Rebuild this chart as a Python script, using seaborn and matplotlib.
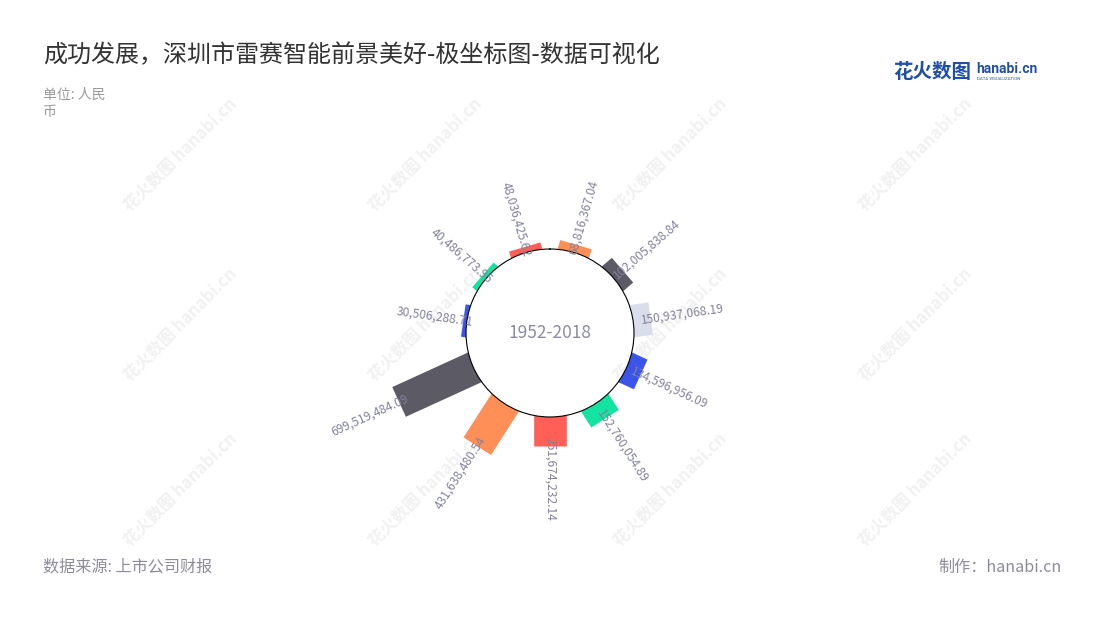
import numpy as np
import matplotlib
matplotlib.use('Agg')
import matplotlib.pyplot as plt
import seaborn as sns

# data, clockwise from the top of the circle
values = [68816367.04, 102005838.84, 150937068.19, 134596956.09, 152760054.89,
          251674232.14, 431638480.54, 699519484.09, 30506288.71, 40486773.95,
          48036425.62]
bar_colors = ['#FF8F56', '#5B5A65', '#D9DEEA', '#3A55E8', '#12E3A1',
              '#FF5F57', '#FF8F56', '#5B5A65', '#3A55E8', '#12E3A1', '#FF5F57']
center_label = '1952-2018'
title = '成功发展，深圳市雷赛智能前景美好-极坐标图-数据可视化'
unit_text = '单位: 人民\n币'
source_text = '数据来源: 上市公司财报'
maker_text = '制作：hanabi.cn'

sns.set_theme(style='white')
plt.rcParams['font.family'] = ['Noto Sans CJK SC', 'DejaVu Sans']

W, H = 1100, 620
fig = plt.figure(figsize=(11, 6.2), dpi=100)
fig.patch.set_facecolor('white')

# polar axes: radius 248px, centre at (550, 333)
R = 248
cx, cy = 550, 333
ax = fig.add_axes([(cx - R) / W, (H - cy - R) / H, 2 * R / W, 2 * R / H],
                  projection='polar')
rmax = 1.4e9
ax.set_ylim(0, rmax)
ax.set_rorigin(-0.717e9)
ax.set_theta_zero_location('N')
ax.set_theta_direction(-1)
ax.set_xticks([])
ax.set_yticks([])
ax.grid(False)
ax.set_facecolor('none')
ax.spines['polar'].set_visible(False)
ax.spines['inner'].set_visible(True)
ax.spines['inner'].set_color('black')
ax.spines['inner'].set_linewidth(0.8)

n = len(values)
theta = (np.arange(n) + 0.5) * 2 * np.pi / n

# rectangular bars drawn as thick radial lines
ax.vlines(theta, -0.05e9, values, colors=bar_colors, linewidth=23.5,
          capstyle='butt', zorder=2)

# value labels along the radius
label_color = '#82829A'
for t, v in zip(theta, values):
    a = np.degrees(t)
    if a <= 180.001:
        rot, ha = 90 - a, 'left'
    else:
        rot, ha = 270 - a, 'right'
    ax.text(t, v - 0.085e9, f'{v:,.2f}', rotation=rot, ha=ha, va='center',
            rotation_mode='anchor', fontsize=8.7, color=label_color,
            clip_on=True, zorder=3)

ax.text(0.5, 0.5, center_label, transform=ax.transAxes, ha='center',
        va='center', fontsize=12.5, color='#8C8CA3')

# titles and notes
fig.text(43 / W, 1 - 55 / H, title, fontsize=17.3, color='#333333',
         ha='left', va='center')
fig.text(43 / W, 1 - 88 / H, unit_text, fontsize=10, color='#999999',
         ha='left', va='top', linespacing=1.25)
fig.text(43 / W, 1 - 567 / H, source_text, fontsize=11.6, color='#8C8C99',
         ha='left', va='center')
fig.text(1062 / W, 1 - 567 / H, maker_text, fontsize=11.6, color='#8C8C99',
         ha='right', va='center')

# logo
fig.text(893 / W, 1 - 72 / H, '花火数图', fontsize=14, color='#1F4FA8',
         fontweight='bold', ha='left', va='center')
fig.text(976 / W, 1 - 69 / H, 'hanabi.cn', fontsize=10, color='#1F4FA8',
         fontweight='bold', ha='left', va='center', family=['Roboto', 'DejaVu Sans'])
fig.text(977 / W, 1 - 79 / H, 'DATA VISUALIZATION', fontsize=3.2, color='#1F4FA8',
         ha='left', va='center', family=['Roboto', 'DejaVu Sans'])

# faint watermarks
for wx in [180, 425, 670, 915]:
    for wy in [155, 325, 490]:
        fig.text(wx / W, 1 - wy / H, '花火数图 hanabi.cn', rotation=45,
                 fontsize=12, color='#F1F1F1', fontweight='bold',
                 ha='center', va='center', zorder=-1)

fig.savefig('out.png', dpi=100, facecolor='white')
